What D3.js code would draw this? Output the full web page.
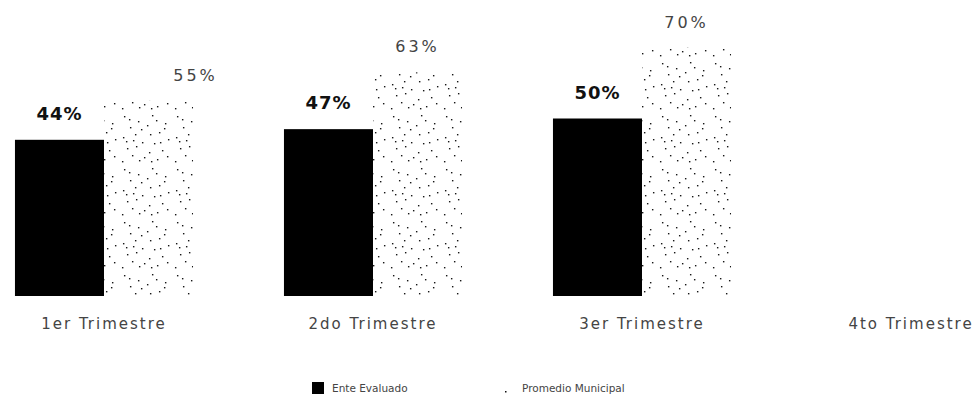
<!DOCTYPE html>
<html><head><meta charset="utf-8">
<script src="https://cdn.jsdelivr.net/npm/d3@7"></script>
<style>body{margin:0;background:#fff}svg{display:block}</style>
</head><body>
<svg id="c" width="976" height="408"></svg>
<script>
const categories = ["1er Trimestre","2do Trimestre","3er Trimestre","4to Trimestre"];
const seriesNames = ["Ente Evaluado","Promedio Municipal"];
const enteEvaluado = [44, 47, 50, null];
const promedioMunicipal = [55, 63, 70, null];

const svg = d3.select("#c");
const baseY = 296;
const y = d3.scaleLinear().domain([0, 100]).range([baseY, baseY - 355]);
const x0 = d3.scaleBand().domain(categories).range([-30.5, 1045.5]).paddingInner(0.338).paddingOuter(0.169);
const x1 = d3.scaleBand().domain(seriesNames).range([0, x0.bandwidth()]).padding(0);
const FONT = "'DejaVu Sans', sans-serif";

// sparse, irregular dotted texture for Promedio Municipal
const dotPts = [[3,2],[17,7],[31,1],[44,9],[9,13],[26,11],[38,18],[2,23],[14,20],[47,25],[21,28],[33,29],
[6,34],[41,36],[11,41],[28,38],[36,45],[1,47],[18,46],[46,42],[8,5],[29,20],[15,32],[43,14],[23,43],[35,6],[5,27],
[20,15],[39,28],[12,26],[30,47]];
const defs = svg.append("defs");
const pat = defs.append("pattern").attr("id","dots").attr("patternUnits","userSpaceOnUse")
  .attr("width",53).attr("height",53).attr("y",8);
pat.selectAll("rect").data(dotPts).join("rect")
  .attr("x",d=>d[0]).attr("y",d=>d[1]).attr("width",1.4).attr("height",1.4).attr("fill","#111");

const fills = {"Ente Evaluado":"#000","Promedio Municipal":"url(#dots)"};
const labelDx = {"1er Trimestre":47};
const rows = categories.map((c,i)=>({cat:c, vals:[
  {cat:c, s:"Ente Evaluado", v:enteEvaluado[i]},
  {cat:c, s:"Promedio Municipal", v:promedioMunicipal[i]}]}));

const grp = svg.append("g").selectAll("g.grp").data(rows).join("g").attr("class","grp")
  .attr("transform", d=>`translate(${x0(d.cat)},0)`);
grp.selectAll("rect").data(d=>d.vals.filter(v=>v.v!=null)).join("rect")
  .attr("x", d=>x1(d.s)).attr("width", x1.bandwidth())
  .attr("y", d=>y(d.v)).attr("height", d=>baseY - y(d.v))
  .attr("fill", d=>fills[d.s]);
grp.selectAll("text.val").data(d=>d.vals.filter(v=>v.v!=null)).join("text").attr("class","val")
  .attr("x", d=>x1(d.s)+x1.bandwidth()/2 + (d.s==="Promedio Municipal" ? (labelDx[d.cat]||0) : 0))
  .attr("y", d=>y(d.v)-20)
  .attr("text-anchor","middle")
  .attr("font-family",FONT)
  .attr("font-size", d=>d.s==="Ente Evaluado"?18:16)
  .attr("letter-spacing", d=>d.s==="Ente Evaluado"?1:3)
  .attr("font-weight", d=>d.s==="Ente Evaluado"?"bold":"normal")
  .attr("fill", d=>d.s==="Ente Evaluado"?"#111":"#444")
  .text(d=>d.v+"%");

// x axis labels
const ax = svg.append("g").attr("transform",`translate(0,${baseY})`)
  .call(d3.axisBottom(x0).tickSize(0).tickPadding(22));
ax.select(".domain").remove();
ax.selectAll("text").attr("font-family",FONT).attr("font-size",15).attr("letter-spacing",2).attr("fill","#444");

// legend
const leg = svg.append("g").attr("transform","translate(0,388)");
leg.append("rect").attr("x",312).attr("y",-6).attr("width",12).attr("height",12).attr("fill","#000");
leg.append("text").attr("x",332).attr("y",4).attr("font-family",FONT).attr("font-size",10.5)
  .attr("fill","#444").text(seriesNames[0]);
leg.append("rect").attr("x",505).attr("y",3).attr("width",1.5).attr("height",1.5).attr("fill","#111");
leg.append("text").attr("x",522).attr("y",4).attr("font-family",FONT).attr("font-size",10.5)
  .attr("fill","#444").text(seriesNames[1]);
</script>
</body></html>
